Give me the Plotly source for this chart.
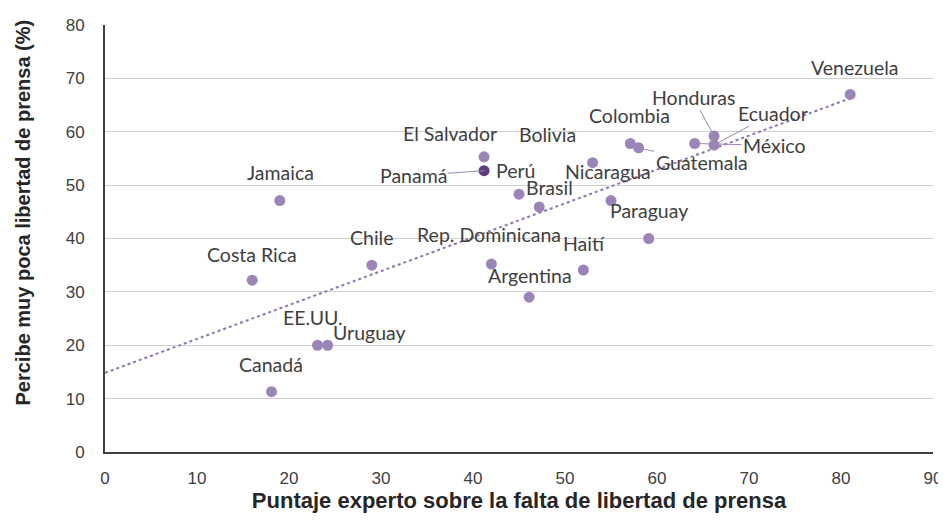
import numpy as np
import plotly.graph_objects as go

# ---- data ----
countries = ["Venezuela", "Honduras", "Ecuador", "México", "Colombia", "Guatemala",
             "Bolivia", "Nicaragua", "Perú", "Brasil", "El Salvador", "Panamá",
             "Jamaica", "Chile", "Costa Rica", "Rep. Dominicana", "Haití", "Paraguay",
             "Argentina", "EE.UU.", "Uruguay", "Canadá"]
expert_score = [81.0, 66.2, 66.2, 64.1, 57.1, 58.0,
                53.0, 55.0, 45.0, 47.2, 41.2, 41.2,
                19.0, 29.0, 16.0, 42.0, 52.0, 59.1,
                46.1, 23.1, 24.2, 18.1]
perceive_pct = [67.0, 59.2, 57.5, 57.8, 57.8, 57.0,
                54.2, 47.1, 48.3, 45.9, 55.3, 52.7,
                47.1, 35.0, 32.2, 35.2, 34.1, 40.0,
                29.0, 20.0, 20.0, 11.3]
highlight = "Panamá"
x_ticks = [0, 10, 20, 30, 40, 50, 60, 70, 80, 90]
y_ticks = [0, 10, 20, 30, 40, 50, 60, 70, 80]

# label placement (pixel offsets of label centre relative to point; leader = drawn line)
label_pos = {
    "Venezuela": (5, -27, False), "Honduras": (-21, -39, True), "Ecuador": (59, -32, True),
    "México": (80, 2, True), "Colombia": (-1, -28, False), "Guatemala": (63, 15, True),
    "Bolivia": (-45, -28, False), "Nicaragua": (-3, -29, False), "Perú": (-4, -24, False),
    "Brasil": (10, -20, False), "El Salvador": (-34, -23, False), "Panamá": (-71, 5, True),
    "Jamaica": (1, -28, False), "Chile": (0, -28, False), "Costa Rica": (0, -26, False),
    "Rep. Dominicana": (-2, -30, False), "Haití": (1, -26, False), "Paraguay": (0, -28, False),
    "Argentina": (1, -22, False), "EE.UU.": (-5, -28, False), "Uruguay": (42, -13, True),
    "Canadá": (-1, -27, False),
}

LIGHT = "#9b85b8"
DARK = "#5e3b7e"
TXT = "#404040"
LABEL_FONT = dict(family="Lato, 'Open Sans', sans-serif", size=19.5, color=TXT)
TICK_FONT = dict(family="'Liberation Sans Narrow', 'Arial Narrow', sans-serif", size=17, color=TXT)
TITLE_FONT = dict(family="'Liberation Sans', Arial, sans-serif", size=22, color="#262626")
YTITLE_FONT = dict(family="'Liberation Sans', Arial, sans-serif", size=20, color="#262626")

colors = [DARK if c == highlight else LIGHT for c in countries]

fig = go.Figure()

# trendline (linear regression over the data)
slope, intercept = np.polyfit(expert_score, perceive_pct, 1)
tx = np.array([0, max(expert_score)])
fig.add_trace(go.Scatter(
    x=tx, y=slope * tx + intercept, mode="lines",
    line=dict(color="#8e76ad", width=2, dash="dot"),
    hoverinfo="skip", showlegend=False))

fig.add_trace(go.Scatter(
    x=expert_score, y=perceive_pct, mode="markers", text=countries,
    marker=dict(color=colors, size=11, line=dict(width=0)),
    showlegend=False))

annotations = []
for c, xv, yv in zip(countries, expert_score, perceive_pct):
    dx, dy, leader = label_pos[c]
    if leader:
        annotations.append(dict(
            x=xv, y=yv, xref="x", yref="y", text=c, showarrow=True,
            ax=dx, ay=dy, arrowhead=0, arrowwidth=1, arrowcolor="#9b85b8",
            standoff=0, startstandoff=0, font=LABEL_FONT))
    else:
        annotations.append(dict(
            x=xv, y=yv, xref="x", yref="y", text=c, showarrow=False,
            xshift=dx, yshift=-dy, font=LABEL_FONT))

# y-axis title (placed as annotation so it can sit slightly above centre)
annotations.append(dict(
    x=0, y=0.5, xref="paper", yref="paper", xanchor="center", yanchor="middle",
    xshift=-83, yshift=26, textangle=-90, showarrow=False,
    text="<b>Percibe muy poca libertad de prensa (%)</b>", font=YTITLE_FONT))

fig.update_layout(
    width=938, height=522,
    margin=dict(l=97, r=13, t=17, b=78),
    paper_bgcolor="white", plot_bgcolor="white",
    annotations=annotations,
    xaxis=dict(
        range=[0, 90], tickvals=x_ticks, showgrid=False, zeroline=False,
        showline=True, linecolor="#404040", linewidth=2, ticks="",
        automargin=False, ticklabelstandoff=10, tickfont=TICK_FONT,
        title=dict(text="<b>Puntaje experto sobre la falta de libertad de prensa</b>",
                   font=TITLE_FONT, standoff=4),
    ),
    yaxis=dict(
        range=[0, 80], tickvals=y_ticks, showgrid=True, gridcolor="#d0d0d0", gridwidth=1,
        zeroline=False, showline=True, linecolor="#404040", linewidth=2, ticks="",
        automargin=False, ticklabelstandoff=15, tickfont=TICK_FONT,
    ),
)

fig.write_html("out.html")
